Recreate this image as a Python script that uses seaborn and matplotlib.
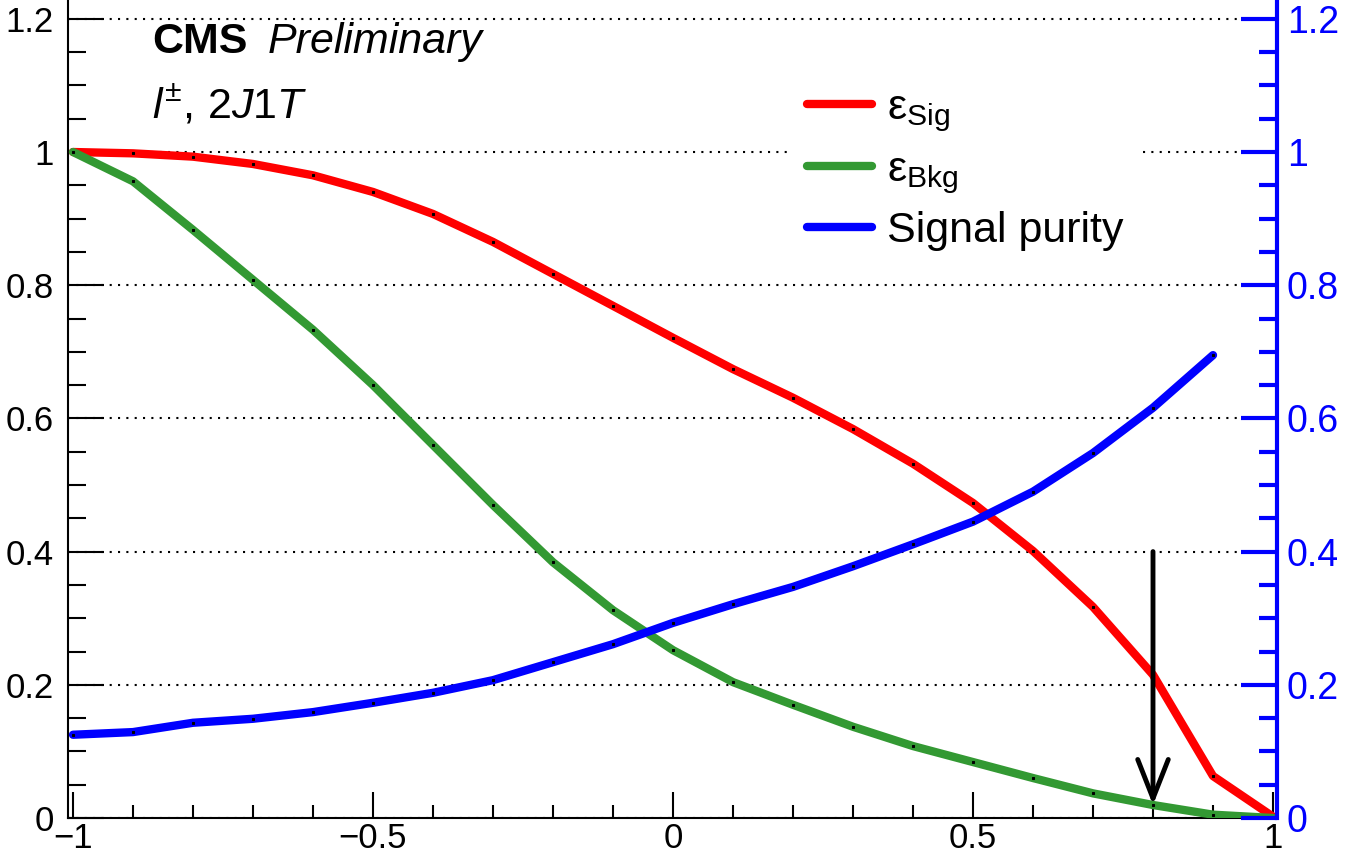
import numpy as np
import pandas as pd
import seaborn as sns
import matplotlib.pyplot as plt
from matplotlib.ticker import MultipleLocator, FuncFormatter

# cut values on the BDT output
cut = [-1.0, -0.9, -0.8, -0.7, -0.6, -0.5, -0.4, -0.3, -0.2, -0.1,
       0.0, 0.1, 0.2, 0.3, 0.4, 0.5, 0.6, 0.7, 0.8, 0.9, 1.0]
eff_sig = [1.0, 0.998, 0.993, 0.982, 0.965, 0.940, 0.907, 0.865, 0.817, 0.769,
           0.721, 0.674, 0.631, 0.584, 0.532, 0.473, 0.401, 0.317, 0.215, 0.063, 0.002]
eff_bkg = [1.0, 0.956, 0.883, 0.808, 0.733, 0.650, 0.560, 0.470, 0.384, 0.312,
           0.252, 0.204, 0.170, 0.137, 0.108, 0.084, 0.060, 0.037, 0.0195, 0.005, 0.0]
purity = [0.125, 0.129, 0.143, 0.149, 0.159, 0.173, 0.188, 0.207, 0.234, 0.261,
          0.293, 0.321, 0.347, 0.378, 0.411, 0.445, 0.490, 0.548, 0.616, 0.695]
best_cut = 0.8

df = pd.DataFrame({"cut": cut, "sig": eff_sig, "bkg": eff_bkg})
df_pur = pd.DataFrame({"cut": cut[:len(purity)], "pur": purity})

sns.set_style("ticks")
plt.rcParams['font.family'] = ['Liberation Sans', 'DejaVu Sans']
plt.rcParams['text.color'] = 'k'
plt.rcParams['mathtext.fontset'] = 'custom'
plt.rcParams['mathtext.rm'] = 'Liberation Sans'
plt.rcParams['mathtext.it'] = 'Liberation Sans:italic'
plt.rcParams['mathtext.bf'] = 'Liberation Sans:bold'

fig = plt.figure(figsize=(13.45, 8.57), dpi=100)
ax = fig.add_axes([68/1345, 39/857, 1209/1345, 818/857])
ymax = 818/666

dots = dict(marker='s', markersize=2, markerfacecolor='k', markeredgecolor='k')
sns.lineplot(data=df, x="cut", y="sig", ax=ax, color='#ff0000', lw=6,
             label=r"ε$_{\mathrm{Sig}}$", zorder=3, **dots)
sns.lineplot(data=df, x="cut", y="bkg", ax=ax, color='#339933', lw=6,
             label=r"ε$_{\mathrm{Bkg}}$", zorder=3, **dots)
sns.lineplot(data=df_pur, x="cut", y="pur", ax=ax, color='#0000ff', lw=6,
             label="Signal purity", zorder=3, **dots)

ax.annotate("", xy=(best_cut, 0.0195), xytext=(best_cut, 0.4),
            arrowprops=dict(arrowstyle="->,head_length=1.4,head_width=0.55",
                            lw=3.5, color='k', shrinkA=0, shrinkB=0,
                            mutation_scale=20), zorder=4)

ax.set_xlim(-1 - 5/600, 1 + 4/600)
ax.set_ylim(0, ymax)
ax.set_xlabel("")
ax.set_ylabel("")
ax.xaxis.set_major_locator(MultipleLocator(0.5))
ax.xaxis.set_minor_locator(MultipleLocator(0.1))
ax.yaxis.set_major_locator(MultipleLocator(0.2))
ax.yaxis.set_minor_locator(MultipleLocator(0.05))
fmt = FuncFormatter(lambda v, p: ('%g' % round(v, 3)).replace('-', '\u2212'))
ax.xaxis.set_major_formatter(fmt)
ax.yaxis.set_major_formatter(fmt)
ax.yaxis.grid(True, which='major', color='k', linestyle=(0, (1, 3)), lw=1.5)
ax.xaxis.grid(False)
ax.tick_params(axis='y', which='major', direction='in', length=26, width=1.5,
               labelsize=25, pad=10, right=False, colors='k')
ax.tick_params(axis='y', which='minor', direction='in', length=13, width=1.5,
               right=False, colors='k')
ax.tick_params(axis='x', which='major', direction='in', length=18.5, width=1.5,
               labelsize=25, pad=3, top=False, colors='k')
ax.tick_params(axis='x', which='minor', direction='in', length=9.5, width=1.5,
               top=False, colors='k')
for s in ['top', 'right']:
    ax.spines[s].set_visible(False)
for s in ['left', 'bottom']:
    ax.spines[s].set_linewidth(1.5)
    ax.spines[s].set_color('k')

ax2 = ax.twinx()
ax2.set_ylim(0, ymax)
ax2.yaxis.set_major_locator(MultipleLocator(0.2))
ax2.yaxis.set_minor_locator(MultipleLocator(0.05))
ax2.yaxis.set_major_formatter(fmt)
ax2.tick_params(axis='y', which='major', direction='in', length=26, width=3,
                labelsize=27, pad=7, colors='#0000ff')
ax2.tick_params(axis='y', which='minor', direction='in', length=13, width=3,
                colors='#0000ff')
ax2.grid(False)
for s in ['top', 'left', 'bottom']:
    ax2.spines[s].set_visible(False)
ax2.spines['right'].set_color('#0000ff')
ax2.spines['right'].set_linewidth(3)

leg = ax.legend(loc='upper left', bbox_to_anchor=(790/1345, 1 - 71/857),
                bbox_transform=fig.transFigure, fontsize=31, frameon=True,
                facecolor='white', edgecolor='none', framealpha=1,
                handlelength=1.5, handletextpad=0.35, labelspacing=0.36,
                borderaxespad=0, borderpad=0.4, fancybox=False)
for h in leg.get_lines():
    h.set_linewidth(6)
    h.set_marker('')
leg.set_zorder(5)

fig.text(152/1345, 1 - 53/857, "CMS", fontsize=31, fontweight='bold', va='baseline')
fig.text(268/1345, 1 - 53/857, "Preliminary", fontsize=31, fontstyle='italic',
         va='baseline')
fig.text(152/1345, 1 - 118/857, r"$\mathit{l}^{\pm}\mathit{,\,2J1T}$", fontsize=31,
         va='baseline')

fig.savefig("out.png", dpi=100)
